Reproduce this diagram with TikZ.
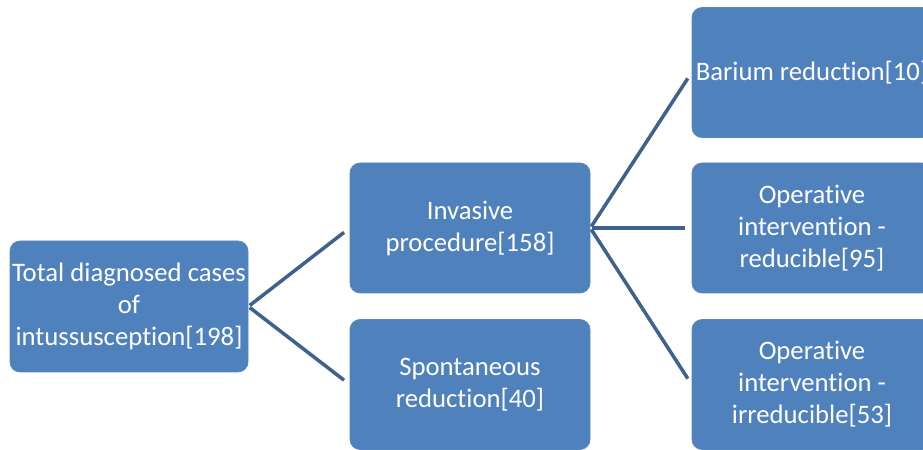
\documentclass[tikz,border=0pt]{standalone}
\usepackage{fontspec}
\setmainfont{Carlito}[Ligatures=NoCommon]
\usepackage{tikz}
\usetikzlibrary{positioning,calc}
\usepackage{xcolor}
\definecolor{boxblue}{RGB}{79,129,189}
\definecolor{boxedge}{RGB}{86,136,194}
\definecolor{linkblue}{RGB}{62,98,142}

\begin{document}
\begin{tikzpicture}[
    casebox/.style={rectangle, rounded corners=0.2cm, fill=boxblue, draw=boxedge,
        text=white, align=center, minimum width=4.8cm, minimum height=2.6cm,
        inner xsep=0pt, inner ysep=2pt,
        font=\fontsize{15.2}{18.2}\selectfont},
    link/.style={draw=linkblue, line width=2pt, shorten <=1pt, shorten >=4pt}]

    % --- frame ---
    \useasboundingbox (0,0) rectangle (18.46,9.0);
    \clip (0,0) rectangle (18.46,9.0);

    % --- root ---
    \node[casebox, minimum width=4.76cm, minimum height=2.62cm] (total) at (2.58, 2.87)
        {Total diagnosed cases\\of\\intussusception[198]};

    % --- second level ---
    \node[casebox] (invasive) at (9.4, 4.44) {Invasive\\procedure[158]};
    \node[casebox] (spont) at (9.4, 1.31) {Spontaneous\\reduction[40]};

    % --- third level ---
    \node[casebox] (barium) at (16.24, 7.55) {Barium reduction[10]};
    \node[casebox] (opred) at (16.24, 4.44) {Operative\\intervention -\\reducible[95]};
    \node[casebox] (opirr) at (16.24, 1.31) {Operative\\intervention -\\irreducible[53]};

    % --- connectors ---
    \draw[link] (total.east) -- (invasive.west);
    \draw[link] (total.east) -- (spont.west);
    \draw[link] (invasive.east) -- (barium.west);
    \draw[link] (invasive.east) -- (opred.west);
    \draw[link] (invasive.east) -- (opirr.west);

\end{tikzpicture}
\end{document}
